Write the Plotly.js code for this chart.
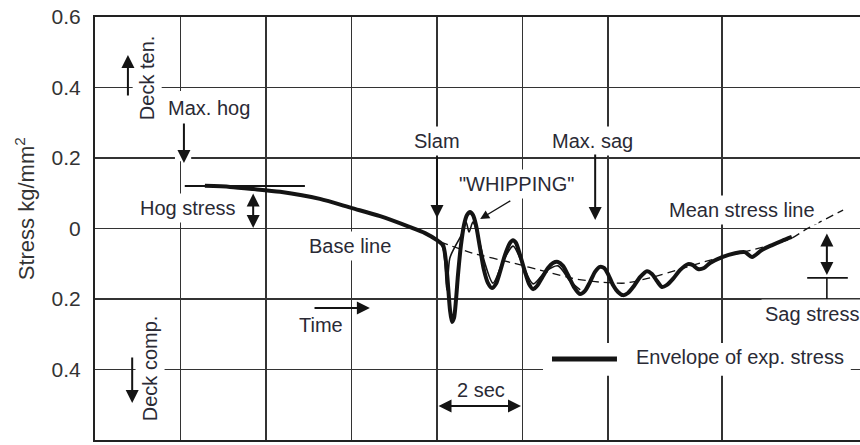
<!DOCTYPE html>
<html>
<head>
<meta charset="utf-8">
<script src="https://cdn.plot.ly/plotly-3.0.1.min.js"></script>
<style>html,body{margin:0;padding:0;background:#fff;}#chart{width:860px;height:445px;}</style>
</head>
<body>
<div id="chart"></div>
<script>
// ---- data (time in seconds, stress in kg/mm^2; sag plotted negative) ----
const envTime   = [2.57,3.16,3.70,4.33,5.26,6.01,6.67,7.37,7.72,8.000,8.140,8.211,8.257,8.304,8.351,8.398,8.444,8.491,8.561,8.632,8.702,8.772,8.842,8.912,9.006,9.099,9.193,9.287,9.380,9.474,9.591,9.708,9.778,9.848,9.942,10.058,10.152,10.246,10.339,10.456,10.596,10.713,10.830,10.947,11.064,11.205,11.345,11.462,11.579,11.696,11.813,11.906,12.000,12.117,12.234,12.351,12.468,12.608,12.749,12.912,13.029,13.146,13.263,13.380,13.520,13.684,13.871,13.988,14.105,14.246,14.386,14.67,14.97,15.20,15.37,15.60,15.84,16.07,16.30];
const envStress = [0.121,0.118,0.112,0.104,0.084,0.058,0.035,0.004,-0.013,-0.033,-0.047,-0.095,-0.160,-0.231,-0.265,-0.254,-0.203,-0.132,-0.047,0.010,0.038,0.047,0.038,0.010,-0.055,-0.118,-0.155,-0.169,-0.157,-0.123,-0.075,-0.041,-0.033,-0.041,-0.075,-0.123,-0.157,-0.172,-0.163,-0.140,-0.112,-0.098,-0.095,-0.106,-0.132,-0.166,-0.186,-0.177,-0.152,-0.123,-0.109,-0.112,-0.129,-0.160,-0.180,-0.189,-0.183,-0.163,-0.138,-0.121,-0.129,-0.149,-0.166,-0.160,-0.143,-0.118,-0.101,-0.104,-0.115,-0.112,-0.098,-0.081,-0.070,-0.067,-0.081,-0.061,-0.047,-0.035,-0.024];

const innerTime   = [8.00,8.14,8.23,8.30,8.42,8.56,8.68,8.75,8.84,8.96,9.12,9.31,9.54,9.78,10.01,10.25,10.53,10.83,11.11,11.35];
const innerStress = [-0.033,-0.055,-0.174,-0.084,-0.052,-0.021,0.018,-0.010,0.018,-0.021,-0.098,-0.155,-0.095,-0.050,-0.104,-0.157,-0.123,-0.106,-0.149,-0.174];

const meanTime   = [8.07,8.84,9.78,10.57,11.23,11.81,12.40,12.98,13.61,14.15,14.67,15.56,16.26,16.65,17.50];
const meanStress = [-0.038,-0.070,-0.098,-0.123,-0.143,-0.152,-0.155,-0.140,-0.118,-0.098,-0.081,-0.055,-0.030,-0.001,0.052];

const gridTimes  = [2,4,6,8,10,12,14.67];
const yTickVals  = [-0.6,-0.4,-0.2,0,0.2,0.4,0.6];
const yTickText  = ['0.6','0.4','0.2','0','0.2','0.4','0.6'];

// ---- styling ----
const FONT = 'Liberation Sans, Arial, Helvetica, sans-serif';
const TXT = '#2a2a35';
const INK = '#141414';

const traces = [
  {x: meanTime, y: meanStress, mode:'lines', line:{color:INK, width:1.3, dash:'8px,5px', shape:'spline', smoothing:0.6}, hoverinfo:'skip'},
  {x: innerTime, y: innerStress, mode:'lines', line:{color:INK, width:1.6, shape:'spline', smoothing:0.8}, hoverinfo:'skip'},
  {x: envTime, y: envStress, mode:'lines', name:'Envelope of exp. stress', line:{color:INK, width:4, shape:'spline', smoothing:0.7}, hoverinfo:'skip'}
];

function label(text, x, y, extra) {
  return Object.assign({text:text, x:x, y:y, xref:'x', yref:'y', showarrow:false,
    font:{family:FONT, size:20, color:TXT}, bgcolor:'#ffffff', borderpad:3}, extra||{});
}
function arrow(x, y, ax, ay, extra) {
  return Object.assign({text:'', x:x, y:y, ax:ax, ay:ay, xref:'x', yref:'y', axref:'x', ayref:'y',
    showarrow:true, arrowhead:2, arrowsize:1.3, arrowwidth:2, arrowcolor:INK, standoff:0}, extra||{});
}
const dbl = {arrowside:'end+start', startarrowhead:2, startarrowsize:1.3};

const annotations = [
  // y-axis title
  {text:'Stress kg/mm<sup>2</sup>', xref:'paper', yref:'paper', x:-0.092, y:0.547,
   xanchor:'center', yanchor:'middle', textangle:-90, showarrow:false,
   font:{family:FONT, size:22, color:'#333'}},

  label('Deck ten.', 1.22, 0.427, {textangle:-90}),
  label('Deck comp.', 1.29, -0.396, {textangle:-90}),
  label('Max. hog', 2.67, 0.342),
  label('Hog stress', 2.17, 0.058),
  label('Slam', 8.00, 0.248),
  label('Max. sag', 11.63, 0.248),
  label('"WHIPPING"', 9.87, 0.126),
  label('Base line', 5.96, -0.050),
  label('Time', 5.29, -0.274),
  label('Mean stress line', 15.13, 0.052),
  label('Sag stress', 16.77, -0.243),
  label('2 sec', 9.03, -0.458),
  label('Envelope of exp. stress', 12.56, -0.365, {xanchor:'left', bgcolor:'rgba(0,0,0,0)'}),

  arrow(0.77, 0.492, 0.77, 0.373),
  arrow(0.87, -0.495, 0.87, -0.362),
  arrow(2.08, 0.186, 2.08, 0.302),
  arrow(8.00, 0.030, 8.00, 0.2085),
  arrow(11.70, 0.024, 11.70, 0.214),
  arrow(9.01, 0.027, 9.75, 0.081, {arrowwidth:1.4}),
  arrow(6.43, -0.2255, 5.10, -0.2255),
  arrow(9.965, -0.5035, 8.00, -0.5035, dbl),
  arrow(3.70, 0.0014, 3.70, 0.1035, dbl),
  arrow(17.12, -0.132, 17.12, -0.010, dbl)
];

const shapes = [
  // white gaps breaking the grid behind labels
  {type:'rect', xref:'x', yref:'y', x0:1.87, x1:2.25, y0:0.191, y1:0.390, fillcolor:'#fff', line:{width:0}, layer:'between'},
  {type:'rect', xref:'x', yref:'y', x0:10.48, x1:17.68, y0:-0.418, y1:-0.325, fillcolor:'#fff', line:{width:0}, layer:'between'},
  // hog stress reference line
  {type:'line', xref:'x', yref:'y', x0:2.10, x1:4.91, y0:0.1206, y1:0.1206, line:{color:INK, width:1.8}, layer:'above'},
  // sag stress reference tick and leader
  {type:'line', xref:'x', yref:'y', x0:16.66, x1:17.61, y0:-0.140, y1:-0.140, line:{color:INK, width:1.6}, layer:'above'},
  {type:'line', xref:'x', yref:'y', x0:17.12, x1:17.12, y0:-0.140, y1:-0.200, line:{color:INK, width:1.6}, layer:'above'},
  // legend sample line
  {type:'line', xref:'x', yref:'y', x0:10.69, x1:12.21, y0:-0.370, y1:-0.370, line:{color:INK, width:5}, layer:'above'}
];

const layout = {
  width:860, height:445,
  margin:{l:95, r:0, t:17, b:5},
  paper_bgcolor:'#fff', plot_bgcolor:'#fff',
  showlegend:false,
  font:{family:FONT, color:TXT},
  xaxis:{range:[0,17.895], tickvals:gridTimes, showticklabels:false, ticks:'',
    showgrid:true, gridcolor:'#333', gridwidth:1.5, zeroline:false,
    showline:true, linecolor:'#222', linewidth:2, mirror:true, fixedrange:true},
  yaxis:{range:[-0.6,0.6], tickvals:yTickVals, ticktext:yTickText, ticks:'',
    tickfont:{family:FONT, size:21, color:'#333'}, ticklabelstandoff:8,
    showgrid:true, gridcolor:'#333', gridwidth:1.5, zeroline:false,
    showline:true, linecolor:'#222', linewidth:2, mirror:false, fixedrange:true},
  annotations:annotations,
  shapes:shapes
};

Plotly.newPlot('chart', traces, layout, {displayModeBar:false, staticPlot:true});
</script>
</body>
</html>
